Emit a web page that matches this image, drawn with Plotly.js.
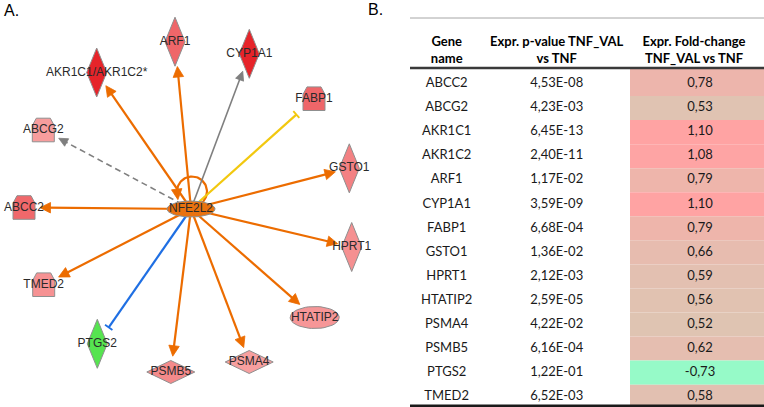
<!DOCTYPE html>
<html><head><meta charset="utf-8">
<script src="https://cdn.plot.ly/plotly-3.0.1.min.js"></script>
<style>html,body{margin:0;padding:0;background:#fff}#chart{width:764px;height:407px}</style>
</head><body><div id="chart"></div>
<script>
// ---------- Table data (panel B) ----------
const geneNames = ['ABCC2','ABCG2','AKR1C1','AKR1C2','ARF1','CYP1A1','FABP1','GSTO1','HPRT1','HTATIP2','PSMA4','PSMB5','PTGS2','TMED2'];
const pValues = [4.53e-8, 4.23e-3, 6.45e-13, 2.40e-11, 1.17e-2, 3.59e-9, 6.68e-4, 1.36e-2, 2.12e-3, 2.59e-5, 4.22e-2, 6.16e-4, 1.22e-1, 6.52e-3];
const foldChanges = [0.78, 0.53, 1.10, 1.08, 0.79, 1.10, 0.79, 0.66, 0.59, 0.56, 0.52, 0.62, -0.73, 0.58];
const headerLine1 = ['Gene', 'Expr. p-value TNF_VAL', 'Expr. Fold-change'];
const headerLine2 = ['name', 'vs TNF', 'TNF_VAL vs TNF'];

// ---------- Network data (panel A) ----------
const focusNode = 'NFE2L2';
const nodeNames = ['NFE2L2','AKR1C1/AKR1C2*','ARF1','CYP1A1','FABP1','GSTO1','HPRT1','HTATIP2','PSMA4','PSMB5','PTGS2','TMED2','ABCC2','ABCG2'];
const nodeX = [191, 96.7, 175, 249.3, 314, 349.3, 351.7, 314.7, 249.2, 170.8, 97.3, 43.7, 24, 43.3];
const nodeY = [209, 72.5, 41.7, 53.8, 98.7, 168.3, 247, 317.5, 362, 372, 343.8, 284.7, 207.5, 130];
const nodeType = ['transcription regulator','enzyme','enzyme','enzyme','transporter','enzyme','enzyme','transcription regulator','peptidase','peptidase','enzyme','transporter','transporter','transporter'];

const edgeTarget = ['NFE2L2','AKR1C1/AKR1C2*','ARF1','CYP1A1','FABP1','GSTO1','HPRT1','HTATIP2','PSMA4','PSMB5','PTGS2','TMED2','ABCC2','ABCG2'];
const edgeEffect = ['increases','increases','increases','increases','decreases','increases','increases','increases','increases','increases','decreases','increases','increases','increases'];
const edgePrediction = ['activation','activation','activation','unpredicted','inconsistent','activation','activation','activation','activation','activation','inhibition','activation','activation','unpredicted'];
const edgeIndirect = [false,false,false,false,false,false,false,false,false,false,false,false,false,true];

// ---------- Styles ----------
const LABEL_FONT = 'Liberation Sans, Arial, sans-serif';
const TABLE_FONT = 'Lato, Carlito, Calibri, sans-serif';
const PRED_COLOR = {activation:'#ec6c00', inhibition:'#1f6fe3', inconsistent:'#f2c80f', unpredicted:'#7f7f7f'};
const SHAPES = {
  'enzyme': {kind:'diamond', hw:10, hh:24.5},
  'peptidase': {kind:'diamond', hw:24, hh:11.5},
  'transporter': {kind:'trap', top:7, hw:11, hh:11.8, bend:7.5},
  'transcription regulator': {kind:'ellipse', rx:24.5, ry:11}
};
const FOCUS_SHAPE = {kind:'ellipse', rx:24, ry:8};

function mix(a,b,t){ return 'rgb(' + a.map((x,i)=>Math.round(x+(b[i]-x)*t)).join(',') + ')'; }
function clamp(t){ return Math.max(0, Math.min(1, t)); }
function netColor(v){ if(v<0) return 'rgb(86,228,80)'; return mix([248,163,163],[230,36,42],clamp((v-0.5)/0.6)); }
function tableColor(v){ if(v<0) return 'rgb(150,250,200)'; return mix([222,197,179],[255,163,163],clamp((v-0.5)/0.6)); }
function fmtP(v){ const parts = v.toExponential(2).split('e'); const e = parseInt(parts[1],10);
  return parts[0].replace('.',',') + 'E' + (e<0?'-':'+') + String(Math.abs(e)).padStart(2,'0'); }
function fmtF(v){ return v.toFixed(2).replace('.',','); }
function foldOf(name){ return Math.max.apply(null, name.replace('*','').split('/').map(g => foldChanges[geneNames.indexOf(g)])); }

function shapePoly(s){
  if(s.kind==='diamond') return [[0,-s.hh],[s.hw,0],[0,s.hh],[-s.hw,0]];
  if(s.kind==='trap') return [[-s.top,-s.hh],[s.top,-s.hh],[s.hw,-s.hh+s.bend],[s.hw,s.hh],[-s.hw,s.hh],[-s.hw,-s.hh+s.bend]];
  const p=[]; for(let k=0;k<48;k++){ const a=2*Math.PI*k/48; p.push([s.rx*Math.cos(a), s.ry*Math.sin(a)]); } return p;
}
function cross(a,b){ return a[0]*b[1]-a[1]*b[0]; }
function rayDist(poly,u){
  let best=Infinity;
  for(let k=0;k<poly.length;k++){
    const a=poly[k], b=poly[(k+1)%poly.length], e=[b[0]-a[0], b[1]-a[1]];
    const den=cross(u,e); if(Math.abs(den)<1e-9) continue;
    const t=cross(a,e)/den, s=cross(a,u)/den;
    if(t>0 && s>=-1e-6 && s<=1+1e-6) best=Math.min(best,t);
  }
  return best;
}

const traces = [];
const fi = nodeNames.indexOf(focusNode);
const HX = nodeX[fi], HY = nodeY[fi];

// ---------- Edges ----------
const heads = {}; const bars = {};
edgeTarget.forEach((tg, k) => {
  const col = PRED_COLOR[edgePrediction[k]];
  const lw = edgePrediction[k]==='unpredicted' ? 1.6 : 2.2;
  let lx, ly, tip, d;
  if(tg === focusNode){
    // self loop above the focus node
    const cx = HX+1, cy = HY-17.5, r = 15;
    lx=[]; ly=[];
    for(let a=-60; a<=200; a+=4){ const t=a*Math.PI/180; lx.push(cx+r*Math.cos(t)); ly.push(cy-r*Math.sin(t)); }
    const n=lx.length; tip=[lx[n-1], ly[n-1]+3];
    d=[tip[0]-lx[n-3], tip[1]-ly[n-3]]; const L=Math.hypot(d[0],d[1]); d=[d[0]/L,d[1]/L];
  } else {
    const ti = nodeNames.indexOf(tg);
    const T=[nodeX[ti], nodeY[ti]];
    const L=Math.hypot(T[0]-HX, T[1]-HY); d=[(T[0]-HX)/L, (T[1]-HY)/L];
    const poly = shapePoly(SHAPES[nodeType[ti]]);
    const bdist = rayDist(poly, [-d[0], -d[1]]);
    const gap = edgeEffect[k]==='decreases' ? 9 : 5;
    tip=[T[0]-d[0]*(bdist+gap), T[1]-d[1]*(bdist+gap)];
    const back = edgeEffect[k]==='decreases' ? 0 : 5;
    lx=[HX, tip[0]-d[0]*back]; ly=[HY, tip[1]-d[1]*back];
  }
  traces.push({type:'scatter', mode:'lines', x:lx, y:ly, hoverinfo:'skip',
    line:{color:col, width:lw, dash: edgeIndirect[k] ? '6px,4px' : 'solid'}});
  const nrm=[-d[1], d[0]];
  if(edgeEffect[k]==='decreases'){
    bars[col] = bars[col] || {x:[],y:[]};
    bars[col].x.push(tip[0]+nrm[0]*4.5, tip[0]-nrm[0]*4.5, null);
    bars[col].y.push(tip[1]+nrm[1]*4.5, tip[1]-nrm[1]*4.5, null);
  } else {
    const HL = edgePrediction[k]==='unpredicted' ? 9 : 10.5, HW = edgePrediction[k]==='unpredicted' ? 8.5 : 10.5;
    heads[col] = heads[col] || {x:[],y:[]};
    const bx=tip[0]-d[0]*HL, by=tip[1]-d[1]*HL;
    heads[col].x.push(tip[0], bx+nrm[0]*HW/2, bx-nrm[0]*HW/2, tip[0], null);
    heads[col].y.push(tip[1], by+nrm[1]*HW/2, by-nrm[1]*HW/2, tip[1], null);
  }
});
Object.keys(heads).forEach(c => traces.push({type:'scatter', mode:'lines', x:heads[c].x, y:heads[c].y, fill:'toself', fillcolor:c, line:{color:c, width:0.8}, hoverinfo:'skip'}));
Object.keys(bars).forEach(c => traces.push({type:'scatter', mode:'lines', x:bars[c].x, y:bars[c].y, line:{color:c, width:1.8}, hoverinfo:'skip'}));

// ---------- Nodes ----------
nodeNames.forEach((nm, i) => {
  const s = i===fi ? FOCUS_SHAPE : SHAPES[nodeType[i]];
  const poly = shapePoly(s);
  const xs = poly.map(p=>nodeX[i]+p[0]), ys = poly.map(p=>nodeY[i]+p[1]);
  xs.push(xs[0]); ys.push(ys[0]);
  const fill = i===fi ? '#e9720f' : netColor(foldOf(nm));
  traces.push({type:'scatter', mode:'lines', x:xs, y:ys, fill:'toself', fillcolor:fill,
    line:{color:'#8f8f8f', width:1}, hoverinfo:'skip'});
});
traces.push({type:'scatter', mode:'text', x:nodeX, y:nodeY, text:nodeNames, cliponaxis:false,
  textposition:'middle center', textfont:{family:LABEL_FONT, size:12, color:'#2a2a2a'}, hoverinfo:'skip'});

// ---------- Table ----------
const rowC = geneNames.map((g,i)=>84+24.05*i);
const rowTop = rowC.map((c,i)=> i===0 ? 68.5 : c-12.02);
const rowBot = rowC.map((c,i)=> i===rowC.length-1 ? 407 : c+12.03);
traces.push({type:'bar', orientation:'h', y:rowC.map((c,i)=>(rowTop[i]+rowBot[i])/2),
  width:rowC.map((c,i)=>rowBot[i]-rowTop[i]), x:foldChanges.map(()=>150), base:630,
  marker:{color:foldChanges.map(tableColor), line:{width:0}}, hoverinfo:'skip'});
const colX = [446.7, 556.7, 700];
const bodyFont = {family:TABLE_FONT, size:13, color:'#1a1a1a'};
traces.push({type:'scatter', mode:'text', x:geneNames.map(()=>colX[0]), y:rowC, text:geneNames, textfont:bodyFont, cliponaxis:false, hoverinfo:'skip'});
traces.push({type:'scatter', mode:'text', x:pValues.map(()=>colX[1]), y:rowC, text:pValues.map(fmtP), textfont:bodyFont, cliponaxis:false, hoverinfo:'skip'});
traces.push({type:'scatter', mode:'text', x:foldChanges.map(()=>colX[2]), y:rowC, text:foldChanges.map(fmtF), textfont:bodyFont, cliponaxis:false, hoverinfo:'skip'});
const hdrX = [446.7, 556.7, 694];
traces.push({type:'scatter', mode:'text', x:hdrX, y:hdrX.map(()=>43), text:headerLine1.map(t=>'<b>'+t+'</b>'), textfont:{family:TABLE_FONT, size:13, color:'#000'}, cliponaxis:false, hoverinfo:'skip'});
traces.push({type:'scatter', mode:'text', x:hdrX, y:hdrX.map(()=>60), text:headerLine2.map(t=>'<b>'+t+'</b>'), textfont:{family:TABLE_FONT, size:13, color:'#000'}, cliponaxis:false, hoverinfo:'skip'});

const layout = {
  width:764, height:407, margin:{l:0,r:0,t:0,b:0}, paper_bgcolor:'#fff', plot_bgcolor:'#fff',
  xaxis:{range:[0,764], visible:false, fixedrange:true},
  yaxis:{range:[407,0], visible:false, fixedrange:true},
  showlegend:false, hovermode:false,
  shapes:[
    {type:'line', xref:'x', yref:'y', x0:410, x1:764, y0:18, y1:18, line:{color:'#a6a6a6', width:1}},
    {type:'line', xref:'x', yref:'y', x0:410, x1:764, y0:68, y1:68, line:{color:'#3a3a3a', width:2.5}},
    {type:'line', xref:'x', yref:'y', x0:410, x1:764, y0:405.8, y1:405.8, line:{color:'#1a1a1a', width:2.5}}
  ],
  annotations:[
    {xref:'x', yref:'y', x:2, y:10, text:'A.', showarrow:false, xanchor:'left', yanchor:'middle', font:{family:LABEL_FONT, size:16, color:'#000'}},
    {xref:'x', yref:'y', x:366, y:9, text:'B.', showarrow:false, xanchor:'left', yanchor:'middle', font:{family:LABEL_FONT, size:16, color:'#000'}}
  ]
};
Plotly.newPlot('chart', traces, layout, {displayModeBar:false, staticPlot:true});
</script></body></html>
